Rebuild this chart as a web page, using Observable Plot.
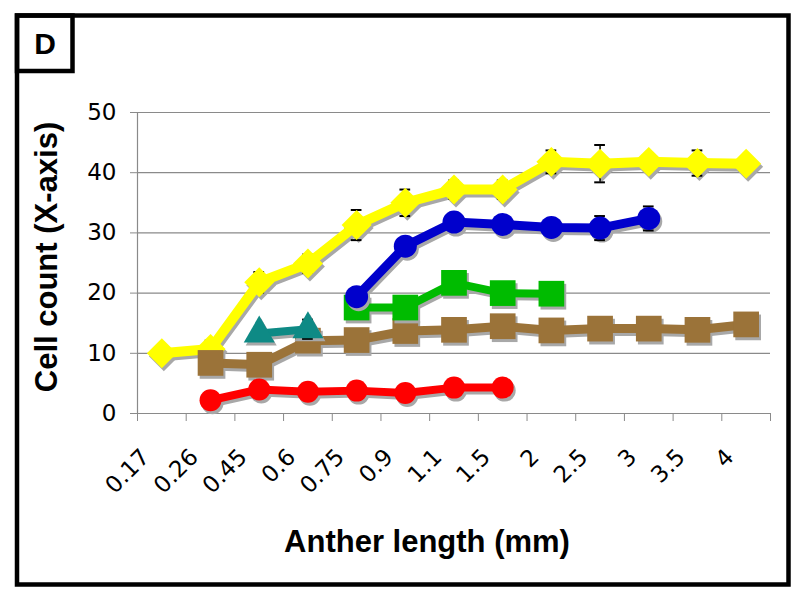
<!DOCTYPE html>
<html><head><meta charset="utf-8">
<script src="https://cdn.jsdelivr.net/npm/d3@7"></script>
<script src="https://cdn.jsdelivr.net/npm/@observablehq/plot@0.6"></script>
<style>
body{margin:0;background:#fff;}
#chart{width:800px;height:598px;}
</style>
</head><body><div id="chart"></div>
<script>
// ---- data ----
const categories = ["0.17","0.26","0.45","0.6","0.75","0.9","1.1","1.5","2","2.5","3","3.5","4"];
const yTicks = [0,10,20,30,40,50];

const yellowValues = [10.0, 10.7, 21.8, 24.9, 31.3, 35.0, 37.2, 37.2, 41.8, 41.5, 41.8, 41.6, 41.5];
const yellowErrors = [0, 1.4, 1.7, 1.5, 2.5, 2.2, 1.5, 1.5, 1.9, 3.1, 0.6, 2.1, 0];
const brownValues  = [null, 8.4, 8.1, 12.1, 12.2, 13.7, 13.9, 14.5, 13.8, 14.1, 14.1, 13.9, 14.8];
const tealValues   = [null, null, 13.3, 14.0, null, null, null, null, null, null, null, null, null];
const tealErrors   = [0, 0, 0.5, 1.6, 0, 0, 0, 0, 0, 0, 0, 0, 0];
const greenValues  = [null, null, null, null, 17.6, 17.6, 21.7, 20.0, 19.9, null, null, null, null];
const blueValues   = [null, null, null, null, 19.4, 27.8, 31.8, 31.4, 30.9, 30.8, 32.4, null, null];
const blueErrors   = [0, 0, 0, 0, 0.5, 0.5, 0.5, 0.5, 0.8, 2.0, 2.0, 0, 0];
const redValues    = [null, 2.2, 4.0, 3.6, 3.8, 3.4, 4.3, 4.3, null, null, null, null, null];

const series = [
  {values: yellowValues, errors: yellowErrors, color: "#FFFF00", symbol: "diamond2", r: 13.5, sw: 10},
  {values: brownValues,  errors: null,         color: "#9B7339", symbol: "square",   r: 14.5, sw: 9},
  {values: tealValues,   errors: tealErrors,   color: "#0E8A85", symbol: "triangle", r: 11.5, sw: 8},
  {values: greenValues,  errors: null,         color: "#00BB00", symbol: "square",   r: 14.5, sw: 8},
  {values: blueValues,   errors: blueErrors,   color: "#0000CC", symbol: "circle",   r: 11.5, sw: 9},
  {values: redValues,    errors: null,         color: "#FF0000", symbol: "circle",   r: 11,   sw: 8}
];

const gray = "#8a8a8a";
const shadow = "#a8a8a8";
const capHalf = 0.11;

const seriesMarks = series.flatMap(s => {
  const rows = s.values.map((v, i) => ({x: i + 0.5, y: v, e: s.errors ? s.errors[i] : 0}))
                       .filter(d => d.y != null);
  const errRows = rows.filter(d => d.e > 0);
  const caps = errRows.flatMap(d => [{x: d.x, y: d.y + d.e}, {x: d.x, y: d.y - d.e}]);
  return [
    Plot.line(rows, {x: "x", y: "y", stroke: shadow, strokeWidth: s.sw, dx: 2, dy: 3}),
    Plot.dot(rows, {x: "x", y: "y", fill: shadow, symbol: () => s.symbol, r: s.r, dx: 2, dy: 3}),
    Plot.ruleX(errRows, {x: "x", y1: d => d.y - d.e, y2: d => d.y + d.e, stroke: "black", strokeWidth: 1.5}),
    Plot.ruleY(caps, {y: "y", x1: d => d.x - capHalf, x2: d => d.x + capHalf, stroke: "black", strokeWidth: 2}),
    Plot.line(rows, {x: "x", y: "y", stroke: s.color, strokeWidth: s.sw}),
    Plot.dot(rows, {x: "x", y: "y", fill: s.color, symbol: () => s.symbol, r: s.r})
  ];
});

const chart = Plot.plot({
  width: 800,
  height: 598,
  marginLeft: 137,
  marginRight: 30,
  marginTop: 112,
  marginBottom: 185,
  style: {fontFamily: "Tahoma, 'DejaVu Sans', sans-serif", fontSize: "23px", background: "white", overflow: "visible"},
  x: {type: "linear", domain: [0, categories.length]},
  y: {domain: [0, 50]},
  symbol: {type: "identity"},
  marks: [
    Plot.ruleY(yTicks.filter(d => d > 0), {stroke: gray, strokeWidth: 1.2}),
    Plot.ruleX([0], {stroke: gray, strokeWidth: 1.2}),
    Plot.ruleY([0], {stroke: gray, strokeWidth: 1.2}),
    Plot.axisY(yTicks, {tickSize: 7, tickPadding: 14, stroke: gray, fill: "black", label: null, fontSize: 23}),
    Plot.axisX(d3.range(categories.length + 1), {tickSize: 8, stroke: gray, tickFormat: () => "", label: null}),
    Plot.text(categories, {x: (d, i) => i + 0.5, frameAnchor: "bottom", text: d => d, rotate: -45,
      textAnchor: "end", lineAnchor: "bottom", dx: -11, dy: 45, fontSize: 23, fill: "black"}),
    ...seriesMarks,
    Plot.text(["Cell count (X-axis)"], {frameAnchor: "left", rotate: -90, dx: -90, dy: -6,
      lineAnchor: "middle", textAnchor: "middle", fontWeight: "bold", fontSize: 31,
      fontFamily: "'Liberation Sans', Arial, sans-serif", fill: "black"}),
    Plot.text(["Anther length (mm)"], {frameAnchor: "bottom", dx: -27, dy: 138,
      lineAnchor: "bottom", textAnchor: "middle", fontWeight: "bold", fontSize: 31,
      fontFamily: "'Liberation Sans', Arial, sans-serif", fill: "black"}),
    Plot.text(["D"], {frameAnchor: "top-left", dx: -92.5, dy: -68, lineAnchor: "middle", textAnchor: "middle",
      fontWeight: "bold", fontSize: 30, fontFamily: "'Liberation Sans', Arial, sans-serif", fill: "black"})
  ]
});

const svg = d3.select(chart);
svg.append("rect").attr("x", 17).attr("y", 15.5).attr("width", 771.5).attr("height", 569)
  .attr("fill", "none").attr("stroke", "black").attr("stroke-width", 4.5);
svg.append("rect").attr("x", 17).attr("y", 15.5).attr("width", 55.5).attr("height", 55.5)
  .attr("fill", "none").attr("stroke", "black").attr("stroke-width", 4.5);

document.getElementById("chart").appendChild(chart);
</script>
</body></html>
